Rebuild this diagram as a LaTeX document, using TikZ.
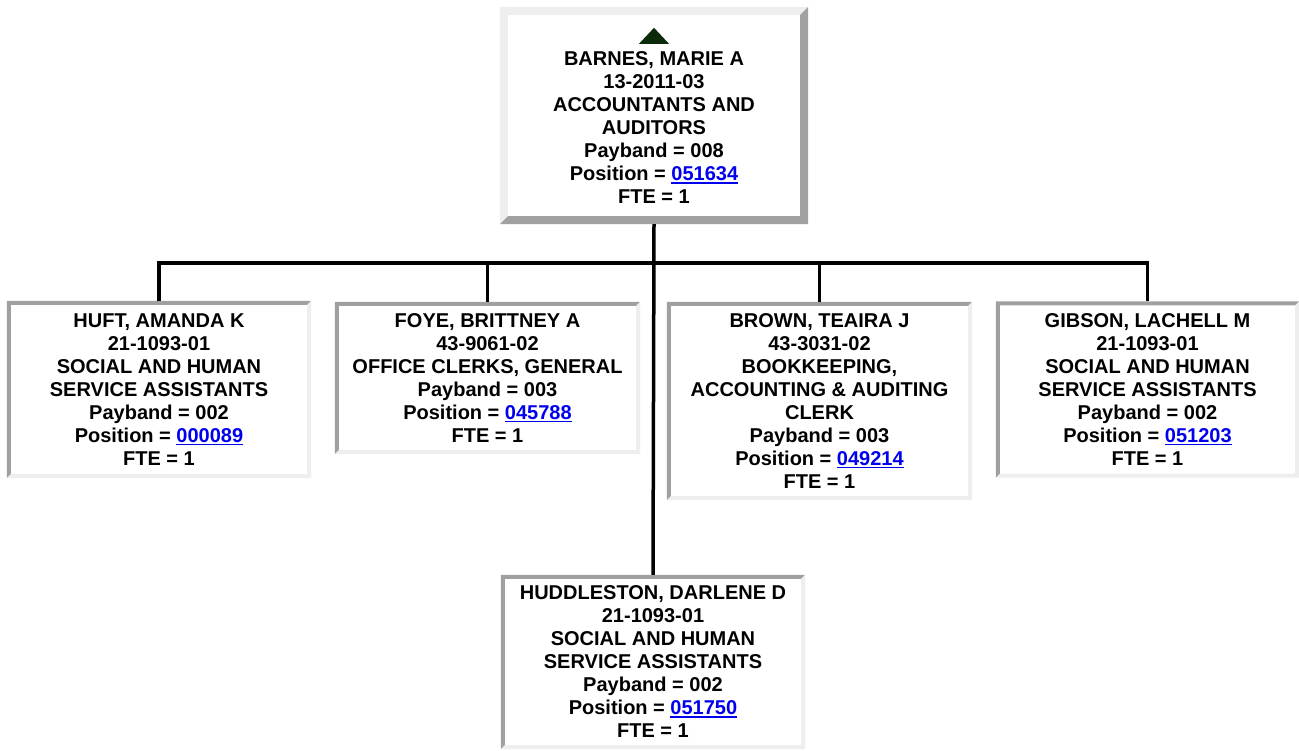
\documentclass[tikz,border=0pt]{standalone}
\usepackage{fontspec}
\setmainfont{Liberation Sans}
\definecolor{linkblue}{RGB}{0,0,238}
\definecolor{beveldark}{RGB}{160,160,160}
\definecolor{bevellight}{RGB}{238,238,238}
\definecolor{arrowgreen}{RGB}{10,42,10}
\newcommand\lnk[1]{{\color{linkblue}\setbox0\hbox{#1}\rlap{\rule[-2.8pt]{\wd0}{1.6pt}}\box0}}
\newcommand\bevel[4]{%
  \fill[#2] (#1.north west) -- (#1.north east) -- ([xshift=-#4,yshift=-#4]#1.north east)
    -- ([xshift=#4,yshift=-#4]#1.north west) -- ([xshift=#4,yshift=#4]#1.south west) -- (#1.south west) -- cycle;
  \fill[#3] (#1.north east) -- (#1.south east) -- (#1.south west) -- ([xshift=#4,yshift=#4]#1.south west)
    -- ([xshift=-#4,yshift=#4]#1.south east) -- ([xshift=-#4,yshift=-#4]#1.north east) -- cycle;}
\tikzset{
  card/.style={rectangle, fill=white, inner sep=0pt, align=center,
    font=\fontsize{20}{23}\selectfont\bfseries},
  link/.style={line width=3.5pt, black}
}
\begin{document}
\begin{tikzpicture}[x=1pt,y=-1pt]
\fill[white] (0,0) rectangle (1299,751);
\useasboundingbox (0,0) rectangle (1299,751);
% boxes
\node[card, minimum width=308pt, minimum height=217pt] (barnes) at (654,115.5)
  {\rule{0pt}{16pt}\\BARNES, MARIE A\\13-2011-03\\ACCOUNTANTS AND\\AUDITORS\\Payband = 008\\Position = \lnk{051634}\\FTE = 1};
\node[card, minimum width=304pt, minimum height=177pt] (huft) at (159,389.5)
  {HUFT, AMANDA K\\21-1093-01\\SOCIAL AND HUMAN\\SERVICE ASSISTANTS\\Payband = 002\\Position = \lnk{000089}\\FTE = 1};
\node[card, minimum width=305pt, minimum height=152pt] (foye) at (487.5,378)
  {FOYE, BRITTNEY A\\43-9061-02\\OFFICE CLERKS, GENERAL\\Payband = 003\\Position = \lnk{045788}\\FTE = 1};
\node[card, minimum width=305pt, minimum height=198pt] (brown) at (819.5,401)
  {BROWN, TEAIRA J\\43-3031-02\\BOOKKEEPING,\\ACCOUNTING \& AUDITING\\CLERK\\Payband = 003\\Position = \lnk{049214}\\FTE = 1};
\node[card, minimum width=303pt, minimum height=176pt] (gibson) at (1147.5,389.5)
  {GIBSON, LACHELL M\\21-1093-01\\SOCIAL AND HUMAN\\SERVICE ASSISTANTS\\Payband = 002\\Position = \lnk{051203}\\FTE = 1};
\node[card, minimum width=304pt, minimum height=174pt] (hudd) at (653,662)
  {HUDDLESTON, DARLENE D\\21-1093-01\\SOCIAL AND HUMAN\\SERVICE ASSISTANTS\\Payband = 002\\Position = \lnk{051750}\\FTE = 1};
% borders
\bevel{barnes}{bevellight}{beveldark}{8pt}
\bevel{huft}{beveldark}{bevellight}{4pt}
\bevel{foye}{beveldark}{bevellight}{4pt}
\bevel{brown}{beveldark}{bevellight}{4pt}
\bevel{gibson}{beveldark}{bevellight}{4pt}
\bevel{hudd}{beveldark}{bevellight}{4pt}
% triangle
\fill[arrowgreen] ([yshift=-21pt]barnes.north) -- ([xshift=15pt,yshift=-37pt]barnes.north)
  -- ([xshift=-15pt,yshift=-37pt]barnes.north) -- cycle;
% connectors
\coordinate (bar) at (654,263);
\draw[link] (barnes.south) -- (hudd.north);
\draw[link] (huft.north) -- (huft.north |- bar) -- (gibson.north |- bar) -- (gibson.north);
\draw[link] (foye.north) -- (foye.north |- bar);
\draw[link] (brown.north) -- (brown.north |- bar);
\end{tikzpicture}
\end{document}
